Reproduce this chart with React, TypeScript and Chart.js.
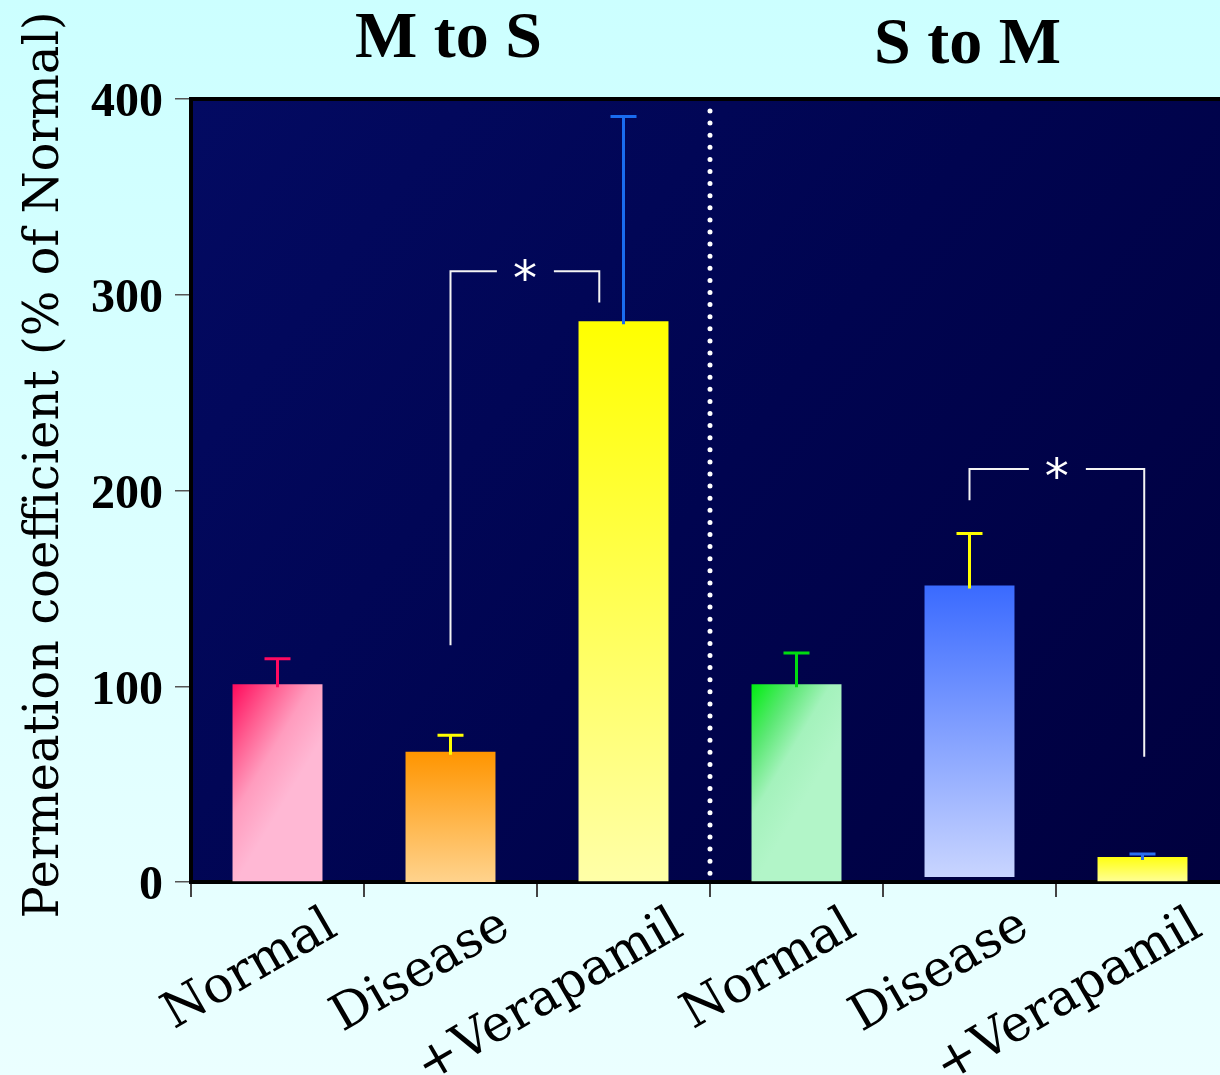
import React, { useEffect, useRef } from "react";
import { Chart, registerables } from "chart.js";

Chart.register(...registerables);

// ---------- data ----------
const categories = ["Normal", "Disease", "+Verapamil", "Normal", "Disease", "+Verapamil"];
const barValues = [101, 66.5, 286.5, 101, 151.5, 12.8];
const barBases = [0, -2.5, 0, 0, 2.5, 0];
const errorTops = [114, 75, 391, 117, 178, 14.3];
const yTicks = [0, 100, 200, 300, 400];
const yTitle = "Permeation coefficient (% of Normal)";
const groupTitles = ["M to S", "S to M"];
const groupTitleAt = [1, 4];
const separatorAt = [2.5];
// significance brackets
const bracketFrom = [1, 4];
const bracketTo = [1.86, 5.01];
const bracketFromLow = [121, 195];
const bracketToLow = [296, 64];
const bracketTop = [312, 211];
const bracketMark = ["*", "*"];

// ---------- styles ----------
const BAR_PCT = 0.52;
const SERIF = "'DejaVu Serif', serif";
const TIMES = "'Liberation Serif', serif";
const errorColors = ["#ff0a60", "#ffff00", "#1a6cf0", "#00dd10", "#ffff00", "#2a70f0"];
const fillKinds = ["diag", "vert", "vert", "diag", "vert", "vert"];
const fillStops: string[][] = [
  ["#ff0a5c", "#ff5c90", "#ff9cbe", "#ffb8d4"],
  ["#ff9500", "#ffd592"],
  ["#ffff00", "#ffffa8"],
  ["#00ee10", "#5ae872", "#a4f2bc", "#b2f5c8"],
  ["#3a6aff", "#c9d5ff"],
  ["#ffff10", "#ffff98"],
];

function barFill(ctx: any) {
  const chart = ctx.chart;
  const i = ctx.dataIndex;
  const stops = fillStops[i];
  const xs = chart.scales.x;
  const ys = chart.scales.y;
  if (!chart.chartArea || !xs || !ys) return stops[0];
  const c = xs.getPixelForValue(i);
  const half = (xs.width / categories.length) * BAR_PCT / 2;
  const top = ys.getPixelForValue(barValues[i]);
  const bottom = ys.getPixelForValue(barBases[i]);
  const left = c - half;
  const right = c + half;
  let g: CanvasGradient;
  if (fillKinds[i] === "diag") {
    g = chart.ctx.createLinearGradient(left, top, right, top + (right - left) * 0.6);
    const pos = [0, 0.35, 0.65, 1];
    stops.forEach((s, k) => g.addColorStop(pos[k], s));
  } else {
    g = chart.ctx.createLinearGradient(0, top, 0, bottom);
    g.addColorStop(0, stops[0]);
    g.addColorStop(1, stops[1]);
  }
  return g;
}

const decor = {
  id: "decor",
  beforeDraw(chart: any) {
    const { ctx, chartArea: a, width, height } = chart;
    ctx.save();
    const bg = ctx.createLinearGradient(0, 0, 0, height);
    bg.addColorStop(0, "#ccffff");
    bg.addColorStop(1, "#ebffff");
    ctx.fillStyle = bg;
    ctx.fillRect(0, 0, width, height);
    const pg = ctx.createLinearGradient(a.left, a.top, a.right, a.bottom);
    pg.addColorStop(0, "#030a62");
    pg.addColorStop(0.5, "#000450");
    pg.addColorStop(1, "#00003e");
    ctx.fillStyle = pg;
    ctx.fillRect(a.left, a.top, a.right - a.left, a.bottom - a.top);
    ctx.fillStyle = "#000";
    ctx.fillRect(a.left - 2, a.top - 2, a.right - a.left + 2, 4);
    ctx.restore();
  },
  afterDatasetsDraw(chart: any) {
    const { ctx, chartArea: a } = chart;
    const xs = chart.scales.x;
    const ys = chart.scales.y;
    ctx.save();
    // separator
    ctx.strokeStyle = "#ffffff";
    ctx.lineWidth = 5;
    ctx.lineCap = "round";
    ctx.setLineDash([0, 12.1]);
    separatorAt.forEach((s) => {
      const x = xs.getPixelForValue(s);
      ctx.beginPath();
      ctx.moveTo(x, a.top + 12);
      ctx.lineTo(x, a.bottom - 2);
      ctx.stroke();
    });
    ctx.setLineDash([]);
    ctx.lineCap = "butt";
    // error bars
    barValues.forEach((v, i) => {
      const x = xs.getPixelForValue(i);
      const y0 = ys.getPixelForValue(v) + 3;
      const y1 = ys.getPixelForValue(errorTops[i]);
      ctx.strokeStyle = errorColors[i];
      ctx.lineWidth = 3;
      ctx.beginPath();
      ctx.moveTo(x, y0);
      ctx.lineTo(x, y1);
      ctx.moveTo(x - 13, y1);
      ctx.lineTo(x + 13, y1);
      ctx.stroke();
    });
    // brackets
    ctx.strokeStyle = "#f4f4f4";
    ctx.fillStyle = "#ffffff";
    ctx.lineWidth = 2;
    bracketFrom.forEach((f, k) => {
      const x1 = xs.getPixelForValue(f);
      const x2 = xs.getPixelForValue(bracketTo[k]);
      const yt = ys.getPixelForValue(bracketTop[k]);
      const ya = ys.getPixelForValue(bracketFromLow[k]);
      const yb = ys.getPixelForValue(bracketToLow[k]);
      const xm = (x1 + x2) / 2;
      ctx.beginPath();
      ctx.moveTo(x1, ya);
      ctx.lineTo(x1, yt);
      ctx.lineTo(xm - 28, yt);
      ctx.moveTo(xm + 29, yt);
      ctx.lineTo(x2, yt);
      ctx.lineTo(x2, yb);
      ctx.stroke();
      ctx.font = "48px 'DejaVu Sans', sans-serif";
      ctx.textAlign = "center";
      ctx.textBaseline = "alphabetic";
      ctx.fillText(bracketMark[k], xm, yt + 24);
    });
    ctx.restore();
  },
  afterDraw(chart: any) {
    const { ctx } = chart;
    const xs = chart.scales.x;
    ctx.save();
    ctx.fillStyle = "#000";
    // group titles
    ctx.font = `bold 66px ${TIMES}`;
    ctx.textAlign = "center";
    ctx.textBaseline = "alphabetic";
    groupTitles.forEach((t, k) => {
      ctx.fillText(t, xs.getPixelForValue(groupTitleAt[k]) - 2, k === 0 ? 57 : 63);
    });
    // y title
    ctx.save();
    ctx.translate(46, 465);
    ctx.rotate(-Math.PI / 2);
    ctx.font = `48px ${SERIF}`;
    ctx.textAlign = "center";
    ctx.textBaseline = "middle";
    ctx.fillText(yTitle, 0, 0);
    ctx.restore();
    // x labels
    ctx.font = `50px ${SERIF}`;
    ctx.textAlign = "right";
    ctx.textBaseline = "alphabetic";
    categories.forEach((c, i) => {
      const x = xs.getPixelForValue(i) + 62;
      ctx.save();
      ctx.translate(x, 934);
      ctx.rotate(-Math.PI / 6);
      ctx.fillText(c, 0, 0);
      ctx.restore();
    });
    ctx.restore();
  },
};

export default function App() {
  const ref = useRef<HTMLCanvasElement | null>(null);
  useEffect(() => {
    if (!ref.current) return;
    const chart = new Chart(ref.current, {
      type: "bar",
      data: {
        labels: categories,
        datasets: [
          {
            data: barValues.map((v, i) => [barBases[i], v]) as any,
            backgroundColor: barFill as any,
            borderWidth: 0,
            barPercentage: BAR_PCT,
            categoryPercentage: 1,
          },
        ],
      },
      options: {
        responsive: false,
        animation: false,
        devicePixelRatio: 1,
        layout: { padding: { top: 99, right: 1, left: 0, bottom: 0 } },
        plugins: { legend: { display: false }, tooltip: { enabled: false } },
        scales: {
          x: {
            type: "category",
            offset: true,
            grid: {
              offset: true,
              drawOnChartArea: false,
              drawTicks: true,
              tickLength: 15,
              color: "#444",
              lineWidth: 2,
            },
            border: { color: "#000", width: 4 },
            ticks: { display: false },
            afterFit: (s: any) => {
              s.height = 193;
            },
          },
          y: {
            min: 0,
            max: 400,
            afterBuildTicks: (s: any) => {
              s.ticks = yTicks.map((v) => ({ value: v }));
            },
            ticks: {
              color: "#000",
              padding: 12,
              labelOffset: 5,
              font: { family: TIMES, weight: "bold", size: 48 },
            },
            grid: {
              drawOnChartArea: false,
              drawTicks: true,
              tickLength: 16,
              color: "#555",
              lineWidth: 1.5,
            },
            border: { color: "#000", width: 4 },
            afterFit: (s: any) => {
              s.width = 191;
            },
          },
        },
      },
      plugins: [decor],
    });
    return () => chart.destroy();
  }, []);
  return (
    <div style={{ position: "absolute", left: 0, top: 0, width: 1220, height: 1075, overflow: "hidden" }}>
      <canvas ref={ref} width={1230} height={1075} style={{ display: "block" }} />
    </div>
  );
}
